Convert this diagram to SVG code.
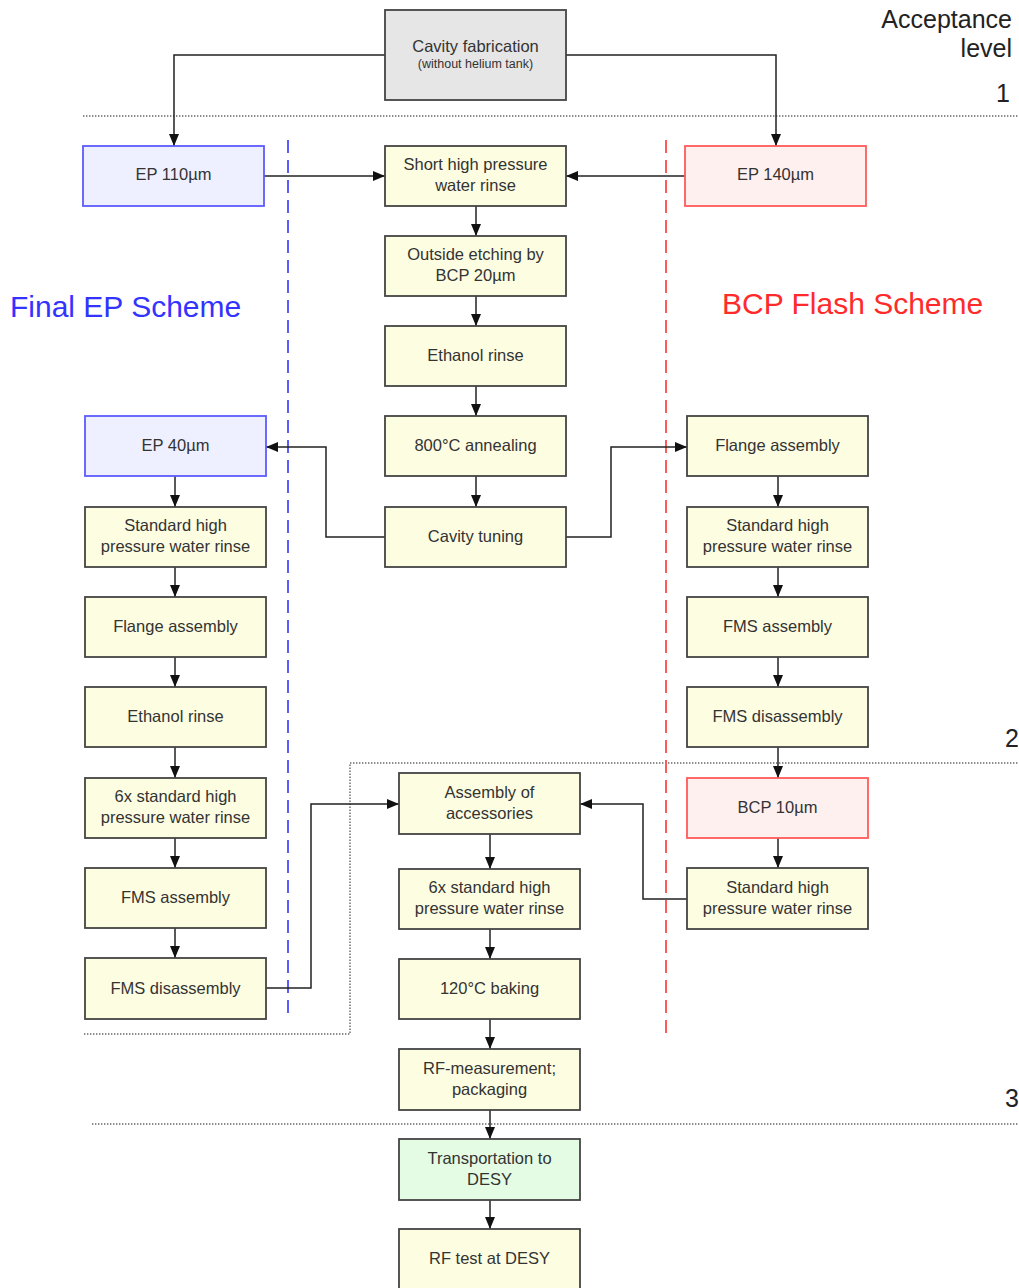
<svg xmlns="http://www.w3.org/2000/svg" width="1019" height="1288" viewBox="0 0 1019 1288">
<style>
.box{fill:#fdfde2;stroke:#444;stroke-width:1.8}
.grey{fill:#e6e6e6;stroke:#444;stroke-width:1.8}
.blue{fill:#eff0ff;stroke:#5b5bff;stroke-width:1.8}
.red{fill:#fff0f0;stroke:#ff5a5a;stroke-width:1.8}
.green{fill:#e4fbe4;stroke:#444;stroke-width:1.8}
text{font-family:"Liberation Sans",Arial,sans-serif;fill:#333;}
.t{font-size:16.5px;text-anchor:middle}
.s{font-size:12.5px;text-anchor:middle}
.lvl{font-size:25px;text-anchor:end;fill:#222}
.conn path{fill:none;stroke:#222;stroke-width:1.5}
.dot{fill:none;stroke:#666;stroke-width:1.4;stroke-dasharray:1.4 1.6}
</style>
<defs>
<marker id="ah" markerUnits="userSpaceOnUse" markerWidth="12" markerHeight="12" viewBox="0 0 12 12" refX="12" refY="6" orient="auto">
<path d="M0,1 L12,6 L0,11 Z" fill="#111"/>
</marker>
</defs>

<!-- level separators -->
<g id="levels">
<path class="dot" d="M83,116 H1019"/>
<path class="dot" d="M84,1034 H350 V763 H1019"/>
<path class="dot" d="M92,1124 H1019"/>
<text class="lvl" x="1012" y="28">Acceptance</text>
<text class="lvl" x="1012" y="57">level</text>
<text class="lvl" x="1010" y="102">1</text>
<text class="lvl" x="1019" y="747">2</text>
<text class="lvl" x="1019" y="1107">3</text>
</g>

<!-- scheme dividers -->
<g id="schemes">
<path d="M288,140 V1015" stroke="#5b5bff" stroke-width="2" stroke-dasharray="13 7" fill="none"/>
<path d="M666,140 V1033" stroke="#ff5a5a" stroke-width="2" stroke-dasharray="13 7" fill="none"/>
<text x="10" y="317" style="font-size:30px;fill:#3333ff">Final EP Scheme</text>
<text x="722" y="314" style="font-size:30px;fill:#ff2a2a">BCP Flash Scheme</text>
</g>

<!-- connectors -->
<g id="connectors" class="conn">
<path d="M385,55 H174 V146" marker-end="url(#ah)"/>
<path d="M566,55 H776 V146" marker-end="url(#ah)"/>
<path d="M264,176 H385" marker-end="url(#ah)"/>
<path d="M685,176 H566" marker-end="url(#ah)"/>
<path d="M476,206 V236" marker-end="url(#ah)"/>
<path d="M476,296 V326" marker-end="url(#ah)"/>
<path d="M476,386 V416" marker-end="url(#ah)"/>
<path d="M476,476 V507" marker-end="url(#ah)"/>
<path d="M385,537 H326 V447 H266" marker-end="url(#ah)"/>
<path d="M566,537 H611 V447 H687" marker-end="url(#ah)"/>
<path d="M175,476 V507" marker-end="url(#ah)"/>
<path d="M175,567 V597" marker-end="url(#ah)"/>
<path d="M175,657 V687" marker-end="url(#ah)"/>
<path d="M175,747 V778" marker-end="url(#ah)"/>
<path d="M175,838 V868" marker-end="url(#ah)"/>
<path d="M175,928 V958" marker-end="url(#ah)"/>
<path d="M778,476 V507" marker-end="url(#ah)"/>
<path d="M778,567 V597" marker-end="url(#ah)"/>
<path d="M778,657 V687" marker-end="url(#ah)"/>
<path d="M778,747 V778" marker-end="url(#ah)"/>
<path d="M778,838 V868" marker-end="url(#ah)"/>
<path d="M266,988 H311 V804 H399" marker-end="url(#ah)"/>
<path d="M687,899 H643 V804 H580" marker-end="url(#ah)"/>
<path d="M490,834 V869" marker-end="url(#ah)"/>
<path d="M490,929 V959" marker-end="url(#ah)"/>
<path d="M490,1019 V1049" marker-end="url(#ah)"/>
<path d="M490,1110 V1139" marker-end="url(#ah)"/>
<path d="M490,1200 V1229" marker-end="url(#ah)"/>
</g>

<!-- center column -->
<g id="n-fab"><rect class="grey" x="385" y="10" width="181" height="90"/>
<text class="t" x="475.5" y="52">Cavity fabrication</text>
<text class="s" x="475.5" y="68">(without helium tank)</text></g>
<g id="n-short"><rect class="box" x="385" y="146" width="181" height="60"/>
<text class="t" x="475.5" y="170">Short high pressure</text><text class="t" x="475.5" y="191">water rinse</text></g>
<g id="n-etch"><rect class="box" x="385" y="236" width="181" height="60"/>
<text class="t" x="475.5" y="260">Outside etching by</text><text class="t" x="475.5" y="281">BCP 20µm</text></g>
<g id="n-eth1"><rect class="box" x="385" y="326" width="181" height="60"/>
<text class="t" x="475.5" y="361">Ethanol rinse</text></g>
<g id="n-anneal"><rect class="box" x="385" y="416" width="181" height="60"/>
<text class="t" x="475.5" y="451">800°C annealing</text></g>
<g id="n-tune"><rect class="box" x="385" y="507" width="181" height="60"/>
<text class="t" x="475.5" y="542">Cavity tuning</text></g>
<g id="n-acc"><rect class="box" x="399" y="773" width="181" height="61"/>
<text class="t" x="489.5" y="798">Assembly of</text><text class="t" x="489.5" y="819">accessories</text></g>
<g id="n-6xc"><rect class="box" x="399" y="869" width="181" height="60"/>
<text class="t" x="489.5" y="893">6x standard high</text><text class="t" x="489.5" y="914">pressure water rinse</text></g>
<g id="n-bake"><rect class="box" x="399" y="959" width="181" height="60"/>
<text class="t" x="489.5" y="994">120°C baking</text></g>
<g id="n-rfm"><rect class="box" x="399" y="1049" width="181" height="61"/>
<text class="t" x="489.5" y="1074">RF-measurement;</text><text class="t" x="489.5" y="1095">packaging</text></g>
<g id="n-trans"><rect class="green" x="399" y="1139" width="181" height="61"/>
<text class="t" x="489.5" y="1164">Transportation to</text><text class="t" x="489.5" y="1185">DESY</text></g>
<g id="n-rftest"><rect class="box" x="399" y="1229" width="181" height="61"/>
<text class="t" x="489.5" y="1264">RF test at DESY</text></g>

<!-- left column -->
<g id="n-ep110"><rect class="blue" x="83" y="146" width="181" height="60"/>
<text class="t" x="173.5" y="180">EP 110µm</text></g>
<g id="n-ep40"><rect class="blue" x="85" y="416" width="181" height="60"/>
<text class="t" x="175.5" y="451">EP 40µm</text></g>
<g id="n-l-hpr"><rect class="box" x="85" y="507" width="181" height="60"/>
<text class="t" x="175.5" y="531">Standard high</text><text class="t" x="175.5" y="552">pressure water rinse</text></g>
<g id="n-l-flange"><rect class="box" x="85" y="597" width="181" height="60"/>
<text class="t" x="175.5" y="632">Flange assembly</text></g>
<g id="n-l-eth"><rect class="box" x="85" y="687" width="181" height="60"/>
<text class="t" x="175.5" y="722">Ethanol rinse</text></g>
<g id="n-l-6x"><rect class="box" x="85" y="778" width="181" height="60"/>
<text class="t" x="175.5" y="802">6x standard high</text><text class="t" x="175.5" y="823">pressure water rinse</text></g>
<g id="n-l-fms"><rect class="box" x="85" y="868" width="181" height="60"/>
<text class="t" x="175.5" y="903">FMS assembly</text></g>
<g id="n-l-fmsd"><rect class="box" x="85" y="958" width="181" height="61"/>
<text class="t" x="175.5" y="994">FMS disassembly</text></g>

<!-- right column -->
<g id="n-ep140"><rect class="red" x="685" y="146" width="181" height="60"/>
<text class="t" x="775.5" y="180">EP 140µm</text></g>
<g id="n-r-flange"><rect class="box" x="687" y="416" width="181" height="60"/>
<text class="t" x="777.5" y="451">Flange assembly</text></g>
<g id="n-r-hpr"><rect class="box" x="687" y="507" width="181" height="60"/>
<text class="t" x="777.5" y="531">Standard high</text><text class="t" x="777.5" y="552">pressure water rinse</text></g>
<g id="n-r-fms"><rect class="box" x="687" y="597" width="181" height="60"/>
<text class="t" x="777.5" y="632">FMS assembly</text></g>
<g id="n-r-fmsd"><rect class="box" x="687" y="687" width="181" height="60"/>
<text class="t" x="777.5" y="722">FMS disassembly</text></g>
<g id="n-bcp10"><rect class="red" x="687" y="778" width="181" height="60"/>
<text class="t" x="777.5" y="813">BCP 10µm</text></g>
<g id="n-r-hpr2"><rect class="box" x="687" y="868" width="181" height="61"/>
<text class="t" x="777.5" y="893">Standard high</text><text class="t" x="777.5" y="914">pressure water rinse</text></g>
</svg>
